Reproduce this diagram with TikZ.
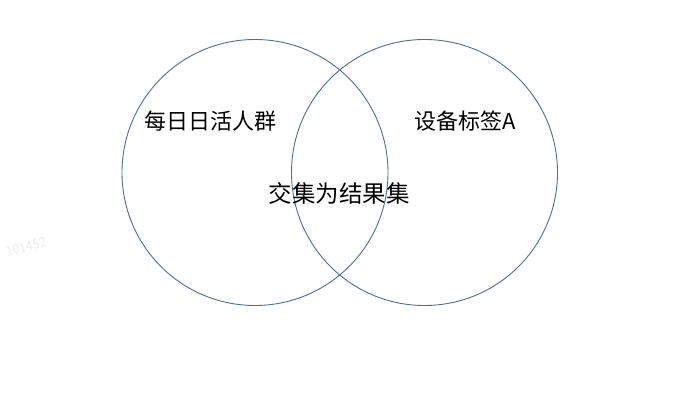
\documentclass[tikz,border=0pt]{standalone}
\usepackage{fontspec}
\newfontfamily\cjk{Noto Sans CJK SC}
\definecolor{ringblue}{HTML}{4F6F94}
\begin{document}
\begin{tikzpicture}[x=1pt,y=-1pt,
  ring/.style={draw=ringblue,line width=0.9pt},
  lbl/.style={font=\cjk\fontsize{22}{24}\selectfont,text=black,inner sep=0pt},
  mid/.style={font=\cjk\fontsize{23.5}{25}\selectfont,text=black,inner sep=0pt},
  wm/.style={font=\sffamily\fontsize{14}{16}\selectfont,text=gray!15,rotate=15,inner sep=0pt}]
\useasboundingbox[fill=white] (0,0) rectangle (698,417);
\node[ring,circle,minimum size=266pt,inner sep=0pt] (left) at (255,172.5) {};
\node[ring,circle,minimum size=266pt,inner sep=0pt] (right) at (424.5,172.5) {};
\node[lbl] (a) at (210,121) {每日日活人群};
\node[lbl] (b) at (465,121) {设备标签A};
\node[mid] (c) at (339,193) {交集为结果集};
\node[wm] (w) at (26,247) {101452};
\end{tikzpicture}
\end{document}
